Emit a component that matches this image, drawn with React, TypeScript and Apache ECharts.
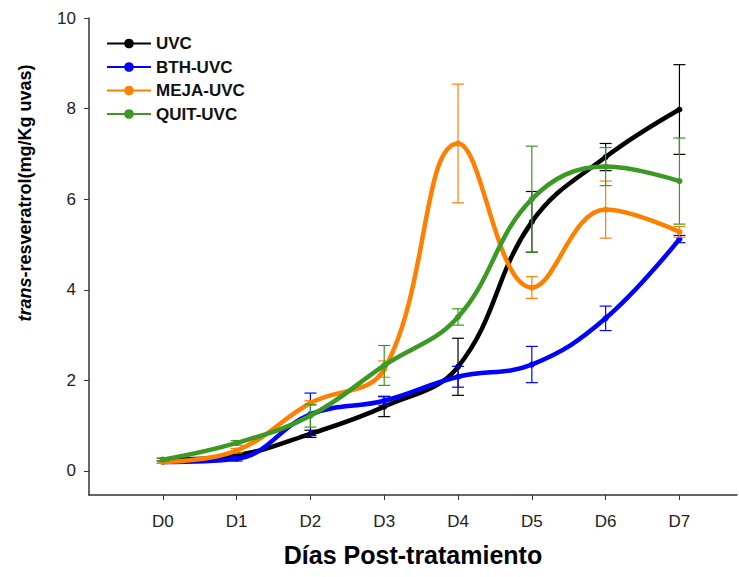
import React, { useEffect, useRef } from "react";
import * as echarts from "echarts";

// Días post-tratamiento (x positions 0..7)
const days = ["D0", "D1", "D2", "D3", "D4", "D5", "D6", "D7"];
const yTicks = [0, 2, 4, 6, 8, 10];

// trans-resveratrol (mg/Kg uvas), mean and error per treatment
const uvc = [0.25, 0.35, 0.82, 1.42, 2.3, 5.5, 6.93, 7.98];
const uvcErr = [0.03, 0.05, 0.08, 0.22, 0.63, 0.67, 0.3, 0.99];
const bth = [0.2, 0.27, 1.25, 1.55, 2.08, 2.35, 3.37, 5.12];
const bthErr = [0.03, 0.05, 0.47, 0.1, 0.23, 0.4, 0.27, 0.08];
const meja = [0.2, 0.45, 1.5, 2.25, 7.23, 4.05, 5.77, 5.28];
const mejaErr = [0.03, 0.05, 0.05, 0.18, 1.31, 0.24, 0.63, 0.12];
const quit = [0.25, 0.62, 1.22, 2.33, 3.4, 6.0, 6.72, 6.4];
const quitErr = [0.03, 0.05, 0.25, 0.44, 0.18, 1.17, 0.42, 0.95];

const groups = [
  { name: "UVC", values: uvc, err: uvcErr, color: "#000000" },
  { name: "BTH-UVC", values: bth, err: bthErr, color: "#0000ff" },
  { name: "MEJA-UVC", values: meja, err: mejaErr, color: "#ff8000" },
  { name: "QUIT-UVC", values: quit, err: quitErr, color: "#3a9a22" },
];

const FONT = "'Liberation Sans', Arial, sans-serif";

export default function App() {
  const ref = useRef<HTMLDivElement>(null);

  useEffect(() => {
    if (!ref.current) return;
    const chart = echarts.init(ref.current, undefined, { renderer: "svg" });

    const lineSeries = groups.map((g, gi) => ({
      type: "line",
      name: g.name,
      data: g.values.map((v, i) => [i, v]),
      smooth: 0.4,
      symbol: "circle",
      symbolSize: 6,
      showSymbol: true,
      z: 3 + gi,
      lineStyle: { width: 4.5, color: g.color },
      itemStyle: { color: g.color },
    }));

    const errSeries = groups.map((g, gi) => ({
      type: "custom",
      name: g.name + " err",
      z: 3 + gi,
      data: g.values.map((v, i) => [i, v - g.err[i], v + g.err[i]]),
      encode: { x: 0, y: [1, 2] },
      renderItem: (params: any, api: any) => {
        const x = api.value(0);
        const lo = api.coord([x, api.value(1)]);
        const hi = api.coord([x, api.value(2)]);
        const hw = 6;
        const style = { stroke: g.color, lineWidth: 1.2, fill: "none" };
        return {
          type: "group",
          children: [
            { type: "line", shape: { x1: hi[0], y1: hi[1], x2: lo[0], y2: lo[1] }, style },
            { type: "line", shape: { x1: hi[0] - hw, y1: hi[1], x2: hi[0] + hw, y2: hi[1] }, style },
            { type: "line", shape: { x1: lo[0] - hw, y1: lo[1], x2: lo[0] + hw, y2: lo[1] }, style },
          ],
        };
      },
    }));

    chart.setOption({
      animation: false,
      backgroundColor: "#ffffff",
      grid: { left: 89, right: 2, top: 18, bottom: 82, containLabel: false },
      legend: {
        data: groups.map((g) => g.name),
        orient: "vertical",
        left: 101,
        top: 30,
        itemWidth: 44,
        itemHeight: 12,
        itemGap: 6.5,
        textStyle: { fontFamily: FONT, fontWeight: "bold", fontSize: 17, color: "#111" },
      },
      xAxis: {
        type: "value",
        min: -1,
        max: 7.78,
        name: "Días Post-tratamiento",
        nameLocation: "middle",
        nameGap: 47,
        nameTextStyle: { fontFamily: FONT, fontWeight: "bold", fontSize: 25, color: "#000" },
        splitLine: { show: false },
        axisLine: { onZero: false, lineStyle: { color: "#333", width: 1.5 } },
        axisTick: { show: true, length: 5, customValues: days.map((_, i) => i), lineStyle: { color: "#333" } },
        axisLabel: {
          customValues: days.map((_, i) => i),
          formatter: (v: number) => days[Math.round(v)] ?? "",
          margin: 18,
          fontFamily: FONT,
          fontSize: 17,
          color: "#222",
        },
      },
      yAxis: {
        type: "value",
        min: -0.53,
        max: 10,
        splitLine: { show: false },
        axisLine: { show: true, onZero: false, lineStyle: { color: "#333", width: 1.5 } },
        axisTick: { show: true, length: 5, customValues: yTicks, lineStyle: { color: "#333" } },
        axisLabel: {
          customValues: yTicks,
          margin: 13,
          fontFamily: FONT,
          fontSize: 17,
          color: "#222",
        },
      },
      graphic: [
        {
          type: "text",
          x: 25,
          y: 193,
          rotation: Math.PI / 2,
          style: {
            text: "{i|trans}-resveratrol(mg/Kg uvas)",
            fontFamily: FONT,
            fontWeight: "bold",
            fontSize: 18,
            fill: "#000",
            align: "center",
            verticalAlign: "middle",
            rich: {
              i: { fontFamily: FONT, fontWeight: "bold", fontStyle: "italic", fontSize: 18, fill: "#000" },
            },
          },
        },
      ],
      series: [...errSeries, ...lineSeries],
    });

    return () => chart.dispose();
  }, []);

  return <div ref={ref} style={{ width: 739, height: 577, position: "absolute", left: 0, top: 0 }} />;
}
